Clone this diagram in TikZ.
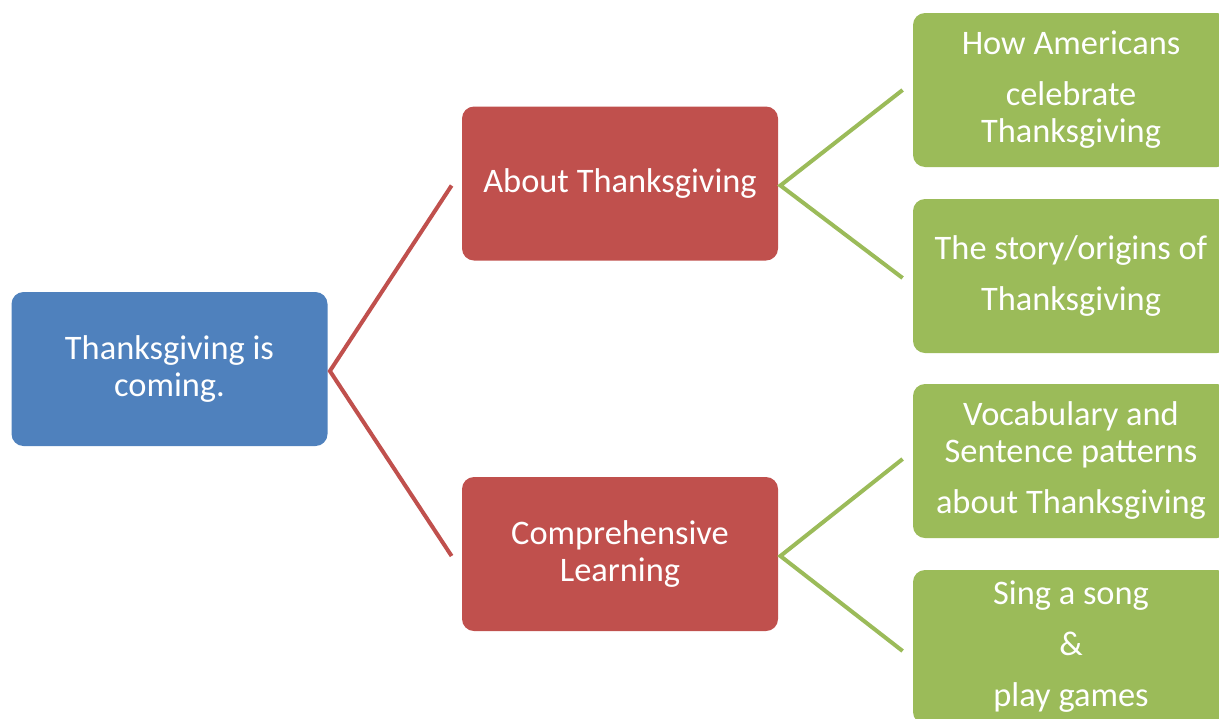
\documentclass[tikz,border=0pt]{standalone}
\usepackage{fontspec}
\setmainfont{Carlito}
\usetikzlibrary{positioning,calc}
\definecolor{rootblue}{HTML}{4F81BD}
\definecolor{midred}{HTML}{C0504D}
\definecolor{leafgreen}{HTML}{9BBB59}

\begin{document}
\begin{tikzpicture}[x=0.5pt, y=-0.5pt, font=\fontsize{17.2}{18.5}\selectfont,
        box/.style={rounded corners=6pt, text=white, align=center, inner sep=0pt, minimum width=158pt, minimum height=77pt},
        redline/.style={draw=midred, line width=2pt},
        greenline/.style={draw=leafgreen, line width=2pt}]
        \useasboundingbox (0,0) rectangle (1219,718);
        \clip (0,0) rectangle (1219,718);
        % boxes
        \node[box, fill=rootblue] (root) at (169.5,369) {Thanksgiving is\\coming.};
        \node[box, fill=midred] (about) at (620,183.5) {About Thanksgiving};
        \node[box, fill=midred] (learn) at (620,554) {Comprehensive\\Learning};
        \node[box, fill=leafgreen] (celebrate) at (1071,90) {How Americans\\[7pt]celebrate\\Thanksgiving};
        \node[box, fill=leafgreen] (story) at (1071,276) {The story/origins of\\[7pt]Thanksgiving};
        \node[box, fill=leafgreen] (vocab) at (1071,461) {Vocabulary and\\Sentence patterns\\[7pt]about Thanksgiving};
        \node[box, fill=leafgreen] (song) at (1071,647) {Sing a song\\[7pt]\&\\[7pt]play games};
        % connectors
        \draw[redline] ([xshift=-5,yshift=-1]about.west) -- ([xshift=1,yshift=-1]root.east) -- ([xshift=-5,yshift=-1]learn.west);
        \draw[greenline] ([xshift=-5]celebrate.west) -- ([xshift=1,yshift=-1]about.east) -- ([xshift=-5,yshift=-1]story.west);
        \draw[greenline] ([xshift=-5,yshift=1]vocab.west) -- ([xshift=1,yshift=-1]learn.east) -- ([xshift=-5,yshift=-2]song.west);
\end{tikzpicture}
\end{document}
